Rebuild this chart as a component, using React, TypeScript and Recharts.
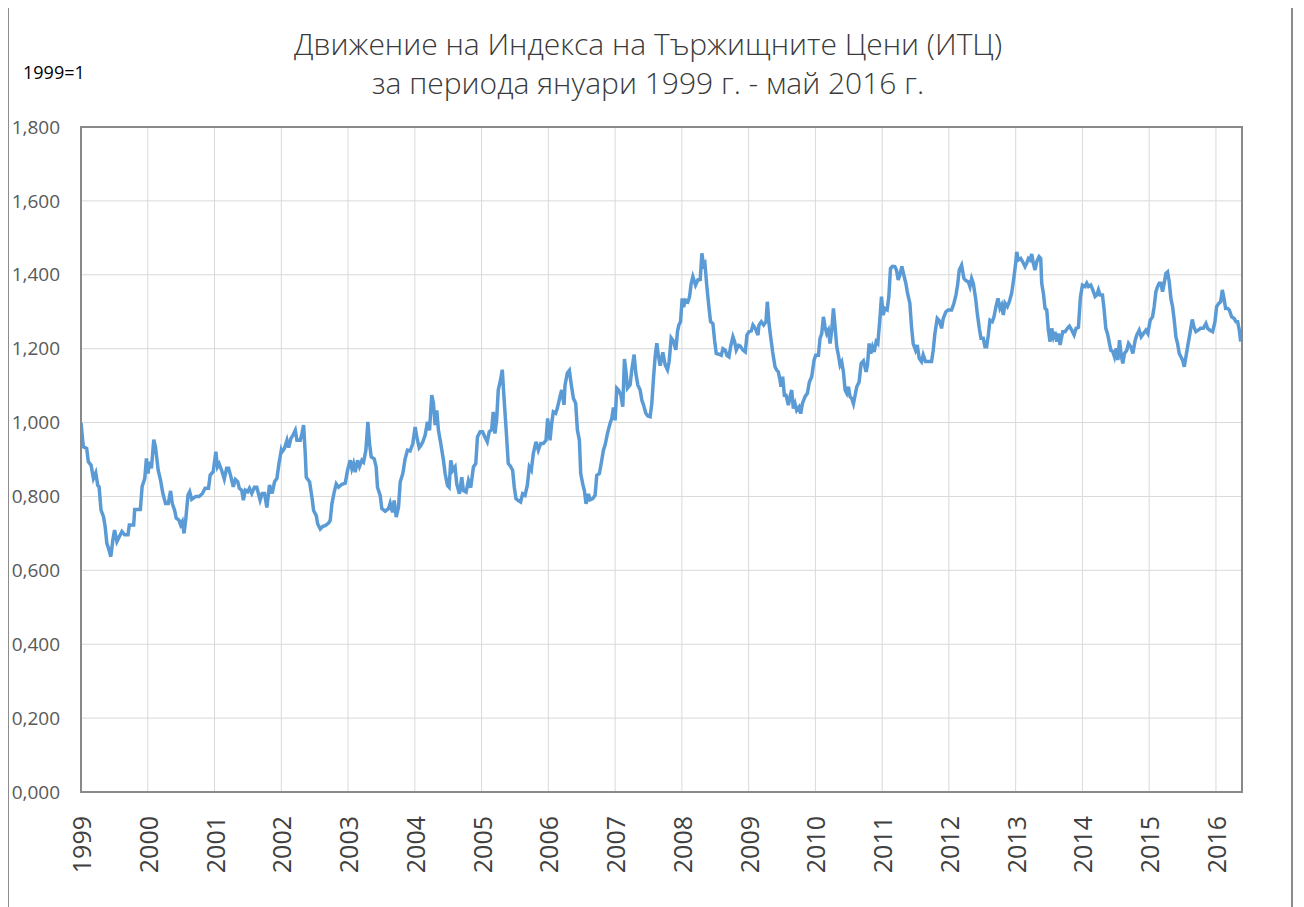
import { LineChart, Line, XAxis, YAxis, CartesianGrid } from 'recharts';

// weekly-ish readings of the index, decimal year -> value (1999 = 1)
const dates = [
    1999.000, 1999.035, 1999.085, 1999.110, 1999.150, 1999.186, 1999.221, 1999.251, 1999.271, 1999.300,
    1999.337, 1999.362, 1999.387, 1999.412, 1999.447, 1999.477, 1999.503, 1999.538, 1999.573, 1999.613,
    1999.653, 1999.704, 1999.724, 1999.789, 1999.804, 1999.889, 1999.915, 1999.955, 1999.980, 2000.005,
    2000.025, 2000.055, 2000.090, 2000.116, 2000.156, 2000.191, 2000.226, 2000.266, 2000.307, 2000.342,
    2000.367, 2000.402, 2000.427, 2000.467, 2000.492, 2000.518, 2000.543, 2000.568, 2000.603, 2000.628,
    2000.658, 2000.719, 2000.769, 2000.819, 2000.859, 2000.910, 2000.935, 2000.980, 2001.020, 2001.045,
    2001.070, 2001.106, 2001.146, 2001.181, 2001.211, 2001.246, 2001.281, 2001.312, 2001.347, 2001.372,
    2001.407, 2001.432, 2001.462, 2001.497, 2001.523, 2001.558, 2001.598, 2001.633, 2001.663, 2001.683,
    2001.714, 2001.749, 2001.784, 2001.824, 2001.864, 2001.899, 2001.935, 2001.965, 2002.000, 2002.010,
    2002.045, 2002.085, 2002.110, 2002.145, 2002.175, 2002.210, 2002.234, 2002.284, 2002.309, 2002.334,
    2002.359, 2002.374, 2002.424, 2002.459, 2002.484, 2002.524, 2002.544, 2002.584, 2002.623, 2002.658,
    2002.708, 2002.733, 2002.758, 2002.793, 2002.823, 2002.858, 2002.908, 2002.958, 2002.993, 2003.032,
    2003.057, 2003.082, 2003.107, 2003.142, 2003.172, 2003.207, 2003.232, 2003.267, 2003.297, 2003.322,
    2003.347, 2003.392, 2003.421, 2003.441, 2003.481, 2003.506, 2003.556, 2003.606, 2003.631, 2003.666,
    2003.691, 2003.721, 2003.756, 2003.781, 2003.820, 2003.855, 2003.890, 2003.930, 2003.970, 2004.005,
    2004.030, 2004.065, 2004.090, 2004.120, 2004.155, 2004.190, 2004.220, 2004.254, 2004.279, 2004.304,
    2004.329, 2004.354, 2004.389, 2004.429, 2004.454, 2004.489, 2004.514, 2004.539, 2004.569, 2004.603,
    2004.628, 2004.668, 2004.703, 2004.728, 2004.768, 2004.803, 2004.838, 2004.878, 2004.913, 2004.938,
    2004.978, 2005.015, 2005.050, 2005.085, 2005.115, 2005.150, 2005.175, 2005.200, 2005.225, 2005.250,
    2005.285, 2005.310, 2005.335, 2005.365, 2005.400, 2005.425, 2005.465, 2005.490, 2005.515, 2005.550,
    2005.585, 2005.615, 2005.650, 2005.685, 2005.715, 2005.745, 2005.775, 2005.815, 2005.850, 2005.885,
    2005.925, 2005.965, 2005.990, 2006.025, 2006.050, 2006.075, 2006.110, 2006.135, 2006.175, 2006.200,
    2006.235, 2006.250, 2006.285, 2006.315, 2006.340, 2006.375, 2006.410, 2006.435, 2006.465, 2006.485,
    2006.515, 2006.540, 2006.565, 2006.600, 2006.625, 2006.665, 2006.700, 2006.725, 2006.765, 2006.800,
    2006.825, 2006.850, 2006.885, 2006.925, 2006.950, 2006.975, 2007.000, 2007.025, 2007.050, 2007.085,
    2007.115, 2007.140, 2007.165, 2007.185, 2007.225, 2007.250, 2007.285, 2007.310, 2007.340, 2007.375,
    2007.400, 2007.425, 2007.460, 2007.490, 2007.525, 2007.550, 2007.575, 2007.600, 2007.625, 2007.650,
    2007.675, 2007.715, 2007.750, 2007.785, 2007.810, 2007.840, 2007.875, 2007.910, 2007.935, 2007.955,
    2007.980, 2008.005, 2008.025, 2008.055, 2008.090, 2008.115, 2008.140, 2008.165, 2008.205, 2008.240,
    2008.275, 2008.300, 2008.325, 2008.345, 2008.375, 2008.405, 2008.430, 2008.465, 2008.490, 2008.515,
    2008.555, 2008.590, 2008.615, 2008.650, 2008.675, 2008.705, 2008.730, 2008.765, 2008.790, 2008.815,
    2008.850, 2008.875, 2008.915, 2008.950, 2008.975, 2009.005, 2009.040, 2009.065, 2009.100, 2009.140,
    2009.155, 2009.190, 2009.225, 2009.260, 2009.280, 2009.305, 2009.330, 2009.360, 2009.395, 2009.420,
    2009.445, 2009.470, 2009.485, 2009.510, 2009.535, 2009.560, 2009.595, 2009.620, 2009.645, 2009.670,
    2009.695, 2009.720, 2009.755, 2009.780, 2009.805, 2009.845, 2009.880, 2009.910, 2009.945, 2009.980,
    2010.005, 2010.045, 2010.070, 2010.095, 2010.120, 2010.145, 2010.170, 2010.195, 2010.220, 2010.245,
    2010.270, 2010.295, 2010.320, 2010.345, 2010.370, 2010.395, 2010.420, 2010.445, 2010.470, 2010.495,
    2010.520, 2010.545, 2010.570, 2010.595, 2010.620, 2010.655, 2010.685, 2010.720, 2010.760, 2010.780,
    2010.805, 2010.830, 2010.855, 2010.880, 2010.910, 2010.935, 2010.965, 2010.990, 2011.015, 2011.040,
    2011.075, 2011.100, 2011.125, 2011.155, 2011.190, 2011.215, 2011.240, 2011.265, 2011.295, 2011.325,
    2011.355, 2011.380, 2011.415, 2011.440, 2011.465, 2011.500, 2011.525, 2011.555, 2011.590, 2011.615,
    2011.650, 2011.690, 2011.740, 2011.765, 2011.790, 2011.825, 2011.855, 2011.890, 2011.915, 2011.955,
    2011.990, 2012.040, 2012.075, 2012.105, 2012.130, 2012.155, 2012.190, 2012.225, 2012.255, 2012.290,
    2012.315, 2012.340, 2012.365, 2012.400, 2012.425, 2012.455, 2012.480, 2012.515, 2012.540, 2012.565,
    2012.590, 2012.615, 2012.650, 2012.675, 2012.705, 2012.735, 2012.765, 2012.790, 2012.815, 2012.840,
    2012.875, 2012.905, 2012.940, 2012.975, 2013.000, 2013.015, 2013.040, 2013.075, 2013.105, 2013.140,
    2013.165, 2013.190, 2013.215, 2013.240, 2013.265, 2013.290, 2013.315, 2013.350, 2013.375, 2013.390,
    2013.415, 2013.440, 2013.465, 2013.490, 2013.515, 2013.540, 2013.565, 2013.590, 2013.615, 2013.640,
    2013.665, 2013.705, 2013.740, 2013.775, 2013.805, 2013.840, 2013.875, 2013.905, 2013.940, 2013.970,
    2014.000, 2014.040, 2014.065, 2014.090, 2014.125, 2014.155, 2014.190, 2014.215, 2014.240, 2014.265,
    2014.300, 2014.325, 2014.350, 2014.375, 2014.405, 2014.425, 2014.455, 2014.480, 2014.505, 2014.530,
    2014.555, 2014.580, 2014.605, 2014.630, 2014.665, 2014.690, 2014.725, 2014.755, 2014.790, 2014.815,
    2014.850, 2014.880, 2014.915, 2014.950, 2014.980, 2015.015, 2015.050, 2015.075, 2015.100, 2015.125,
    2015.150, 2015.175, 2015.200, 2015.225, 2015.250, 2015.275, 2015.300, 2015.325, 2015.350, 2015.375,
    2015.400, 2015.425, 2015.450, 2015.475, 2015.500, 2015.525, 2015.550, 2015.575, 2015.610, 2015.645,
    2015.670, 2015.700, 2015.735, 2015.770, 2015.810, 2015.850, 2015.875, 2015.910, 2015.950, 2015.985,
    2016.010, 2016.045, 2016.070, 2016.095, 2016.120, 2016.145, 2016.175, 2016.200, 2016.235, 2016.270,
    2016.300, 2016.325, 2016.350, 2016.370,
];

const itc = [
    1.000, 0.934, 0.930, 0.894, 0.885, 0.849, 0.864, 0.830, 0.826, 0.763,
    0.745, 0.718, 0.673, 0.660, 0.637, 0.682, 0.709, 0.678, 0.691, 0.705,
    0.696, 0.696, 0.723, 0.723, 0.765, 0.765, 0.826, 0.849, 0.903, 0.862,
    0.894, 0.876, 0.954, 0.934, 0.871, 0.844, 0.808, 0.781, 0.781, 0.815,
    0.781, 0.763, 0.741, 0.736, 0.723, 0.732, 0.700, 0.736, 0.804, 0.813,
    0.792, 0.800, 0.800, 0.808, 0.822, 0.822, 0.858, 0.867, 0.921, 0.880,
    0.888, 0.871, 0.847, 0.876, 0.876, 0.853, 0.826, 0.846, 0.840, 0.822,
    0.817, 0.790, 0.817, 0.813, 0.822, 0.808, 0.825, 0.825, 0.804, 0.790,
    0.808, 0.808, 0.770, 0.831, 0.808, 0.840, 0.849, 0.889, 0.925, 0.920,
    0.929, 0.952, 0.932, 0.957, 0.966, 0.979, 0.952, 0.952, 0.970, 0.993,
    0.916, 0.852, 0.839, 0.798, 0.762, 0.748, 0.726, 0.712, 0.719, 0.721,
    0.728, 0.735, 0.780, 0.812, 0.834, 0.825, 0.833, 0.836, 0.871, 0.898,
    0.875, 0.889, 0.866, 0.898, 0.881, 0.898, 0.893, 0.925, 1.002, 0.943,
    0.907, 0.902, 0.880, 0.825, 0.803, 0.767, 0.760, 0.767, 0.782, 0.757,
    0.789, 0.744, 0.771, 0.839, 0.862, 0.902, 0.925, 0.923, 0.943, 0.988,
    0.961, 0.932, 0.938, 0.948, 0.966, 1.002, 0.979, 1.074, 1.052, 0.993,
    1.033, 0.979, 0.943, 0.898, 0.862, 0.830, 0.825, 0.898, 0.871, 0.880,
    0.834, 0.807, 0.852, 0.816, 0.812, 0.843, 0.824, 0.880, 0.889, 0.961,
    0.975, 0.975, 0.961, 0.948, 0.975, 0.980, 1.029, 0.970, 1.006, 1.088,
    1.116, 1.143, 1.070, 0.989, 0.889, 0.884, 0.871, 0.825, 0.794, 0.789,
    0.785, 0.807, 0.803, 0.830, 0.880, 0.871, 0.916, 0.948, 0.925, 0.943,
    0.943, 0.952, 1.011, 0.952, 0.998, 1.029, 1.025, 1.039, 1.070, 1.088,
    1.048, 1.102, 1.134, 1.141, 1.107, 1.066, 1.052, 0.980, 0.952, 0.862,
    0.834, 0.816, 0.780, 0.807, 0.791, 0.794, 0.803, 0.857, 0.862, 0.898,
    0.925, 0.939, 0.970, 0.998, 1.011, 1.041, 1.006, 1.093, 1.088, 1.075,
    1.043, 1.172, 1.134, 1.093, 1.102, 1.143, 1.184, 1.134, 1.102, 1.088,
    1.061, 1.048, 1.025, 1.018, 1.016, 1.052, 1.120, 1.179, 1.215, 1.179,
    1.154, 1.190, 1.156, 1.143, 1.166, 1.229, 1.220, 1.197, 1.247, 1.264,
    1.273, 1.336, 1.313, 1.331, 1.327, 1.340, 1.377, 1.395, 1.372, 1.386,
    1.387, 1.458, 1.426, 1.431, 1.367, 1.313, 1.273, 1.268, 1.223, 1.187,
    1.185, 1.182, 1.200, 1.196, 1.182, 1.178, 1.205, 1.232, 1.219, 1.196,
    1.209, 1.207, 1.196, 1.191, 1.237, 1.246, 1.248, 1.264, 1.255, 1.237,
    1.264, 1.273, 1.264, 1.273, 1.327, 1.268, 1.232, 1.191, 1.151, 1.142,
    1.137, 1.115, 1.097, 1.124, 1.074, 1.074, 1.047, 1.070, 1.088, 1.038,
    1.051, 1.033, 1.042, 1.024, 1.051, 1.070, 1.079, 1.110, 1.124, 1.169,
    1.182, 1.182, 1.228, 1.241, 1.286, 1.259, 1.241, 1.250, 1.214, 1.250,
    1.309, 1.259, 1.205, 1.182, 1.155, 1.164, 1.137, 1.088, 1.079, 1.097,
    1.070, 1.065, 1.051, 1.074, 1.097, 1.110, 1.160, 1.167, 1.137, 1.155,
    1.214, 1.187, 1.205, 1.191, 1.219, 1.214, 1.277, 1.341, 1.291, 1.309,
    1.305, 1.341, 1.417, 1.423, 1.422, 1.413, 1.386, 1.399, 1.423, 1.399,
    1.377, 1.350, 1.323, 1.259, 1.214, 1.196, 1.210, 1.174, 1.165, 1.183,
    1.165, 1.165, 1.165, 1.196, 1.241, 1.282, 1.276, 1.255, 1.282, 1.300,
    1.305, 1.305, 1.323, 1.345, 1.372, 1.413, 1.426, 1.390, 1.384, 1.381,
    1.368, 1.390, 1.377, 1.336, 1.295, 1.255, 1.228, 1.228, 1.205, 1.205,
    1.237, 1.277, 1.273, 1.286, 1.314, 1.336, 1.309, 1.318, 1.291, 1.323,
    1.314, 1.327, 1.350, 1.395, 1.431, 1.462, 1.440, 1.444, 1.435, 1.422,
    1.431, 1.444, 1.440, 1.456, 1.431, 1.413, 1.435, 1.449, 1.444, 1.377,
    1.350, 1.309, 1.305, 1.250, 1.219, 1.255, 1.232, 1.246, 1.219, 1.241,
    1.210, 1.246, 1.246, 1.255, 1.261, 1.250, 1.237, 1.255, 1.258, 1.340,
    1.372, 1.368, 1.377, 1.368, 1.372, 1.359, 1.341, 1.345, 1.359, 1.345,
    1.345, 1.305, 1.255, 1.241, 1.214, 1.196, 1.192, 1.178, 1.201, 1.169,
    1.223, 1.183, 1.160, 1.187, 1.196, 1.214, 1.205, 1.187, 1.223, 1.237,
    1.250, 1.232, 1.241, 1.250, 1.241, 1.277, 1.286, 1.314, 1.354, 1.368,
    1.377, 1.377, 1.354, 1.377, 1.404, 1.408, 1.381, 1.336, 1.314, 1.277,
    1.232, 1.214, 1.187, 1.178, 1.169, 1.151, 1.178, 1.205, 1.241, 1.279,
    1.259, 1.246, 1.250, 1.255, 1.255, 1.268, 1.255, 1.250, 1.246, 1.273,
    1.314, 1.323, 1.327, 1.359, 1.336, 1.309, 1.309, 1.305, 1.286, 1.282,
    1.273, 1.273, 1.250, 1.219,
];

const yearTicks = [1999, 2000, 2001, 2002, 2003, 2004, 2005, 2006, 2007, 2008,
    2009, 2010, 2011, 2012, 2013, 2014, 2015, 2016];
const valueTicks = [0, 0.2, 0.4, 0.6, 0.8, 1.0, 1.2, 1.4, 1.6, 1.8];

const data = dates.map((t, i) => ({ t, v: itc[i] }));

const W = 1288;
const H = 899;
const PLOT_LEFT = 73;
const PLOT_RIGHT = 1234;
const PLOT_TOP = 119;
const PLOT_BOTTOM = 784;
const FONT = '"Open Sans", "DejaVu Sans", sans-serif';

const fmt = (v: number) => v.toFixed(3).replace('.', ',');

const YTick = ({ y, payload }: any) => (
    <text x={PLOT_LEFT - 21} y={y} dy="0.35em" textAnchor="end"
        fontFamily={FONT} fontSize={19} fill="#595959">
        {fmt(payload.value)}
    </text>
);

const XTick = ({ x, payload }: any) => {
    const ty = PLOT_BOTTOM + 24;
    return (
        <text x={x} y={ty} dy="0.4em" textAnchor="end"
            transform={`rotate(-90, ${x}, ${ty})`}
            fontFamily={FONT} fontSize={25} fill="#404040">
            {payload.value}
        </text>
    );
};

export default function App() {
    return (
        <div style={{ position: 'relative', width: W, height: H, background: '#fff' }}>
            <div style={{ position: 'absolute', left: -1, top: -8, width: 2, height: H + 8, background: '#8c8c8c' }} />
            <div style={{ position: 'absolute', left: 1283, top: -8, width: 2, height: H + 8, background: '#8c8c8c' }} />

            <div style={{
                position: 'absolute', left: 0, top: 16, width: 1280, textAlign: 'center',
                fontFamily: FONT, fontWeight: 300, fontSize: 30, lineHeight: '39px', color: '#3a3a3a',
            }}>
                <div>Движение на Индекса на Тържищните Цени (ИТЦ)</div>
                <div>за периода януари 1999 г. - май 2016 г.</div>
            </div>

            <div style={{
                position: 'absolute', left: 15, top: 52, fontFamily: FONT, fontSize: 18,
                lineHeight: '24px', color: '#000',
            }}>
                1999=1
            </div>

            <LineChart width={W} height={H} data={data}
                margin={{ top: PLOT_TOP, right: W - PLOT_RIGHT, bottom: 0, left: 0 }}>
                <CartesianGrid stroke="#d9d9d9" strokeWidth={1} />
                <XAxis dataKey="t" type="number" domain={[1999, 2016.39]} ticks={yearTicks}
                    height={H - PLOT_BOTTOM} axisLine={false} tickLine={false}
                    interval={0} tick={<XTick />} allowDataOverflow />
                <YAxis type="number" domain={[0, 1.8]} ticks={valueTicks} width={PLOT_LEFT}
                    axisLine={false} tickLine={false} interval={0} tick={<YTick />} />
                <Line type="linear" dataKey="v" stroke="#5b9bd5" strokeWidth={3.5}
                    dot={false} isAnimationActive={false} />
            </LineChart>

            <div style={{
                position: 'absolute', left: PLOT_LEFT - 1, top: PLOT_TOP - 1,
                width: PLOT_RIGHT - PLOT_LEFT + 2, height: PLOT_BOTTOM - PLOT_TOP + 2,
                border: '2px solid #898989', boxSizing: 'border-box', pointerEvents: 'none',
            }} />
        </div>
    );
}
